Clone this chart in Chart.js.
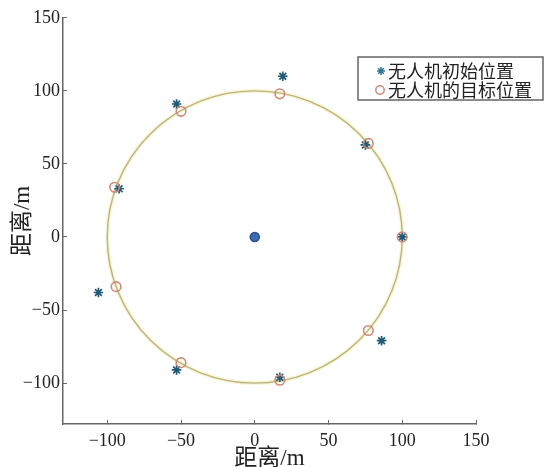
<!DOCTYPE html>
<html>
<head>
<meta charset="utf-8">
<script src="https://cdn.jsdelivr.net/npm/chart.js@4/dist/chart.umd.min.js"></script>
<style>
    html, body { margin: 0; padding: 0; background: #fff; }
    #wrap { width: 546px; height: 467px; }
</style>
</head>
<body>
<div id="wrap"><canvas id="chart"></canvas></div>
<script>
// Initial positions (stars)
const startX = [19, -53, -92, -106, -53, 17, 86, 75, 100, 0];
const startY = [110, 91, 33, -38, -91, -96, -71, 63, 0, 0];
// Target positions (hollow circles)
const targetX = [17, -50, 77, -95, 100, -94, 77, -50, 17];
const targetY = [98, 86, 64, 34, 0, -34, -64, -86, -98];
// Centre drone
const centerX = [0];
const centerY = [0];
// Formation ring
const ringCenter = [0, 0];
const ringRadius = 100;
// Axes
const xTicks = [-100, -50, 0, 50, 100, 150];
const yTicks = [-100, -50, 0, 50, 100, 150];
const legendLabels = ['无人机初始位置', '无人机的目标位置'];

const SERIF = "'Liberation Serif', 'Times New Roman', 'Noto Sans CJK SC', serif";
const STAR_COLOR = '#1f5a76';
const TARGET_COLOR = '#cf8878';

function toPoints(xs, ys) {
    return xs.map((x, i) => ({x: x, y: ys[i]}));
}

function fmt(v) {
    return String(v).replace('-', '\u2212');
}

// draws the r=100 ring through the chart scales
const ringPlugin = {
    id: 'ring',
    beforeDatasetsDraw(chart) {
        const {ctx} = chart;
        const xs = chart.scales.x, ys = chart.scales.y;
        const cx = xs.getPixelForValue(ringCenter[0]);
        const cy = ys.getPixelForValue(ringCenter[1]);
        const rx = xs.getPixelForValue(ringCenter[0] + ringRadius) - cx;
        const ry = cy - ys.getPixelForValue(ringCenter[1] + ringRadius);
        ctx.save();
        ctx.beginPath();
        ctx.ellipse(cx, cy, rx, ry, 0, 0, Math.PI * 2);
        ctx.strokeStyle = 'rgba(246, 242, 190, 0.7)';
        ctx.lineWidth = 4;
        ctx.stroke();
        ctx.strokeStyle = '#b8b487';
        ctx.lineWidth = 1.4;
        ctx.stroke();
        ctx.restore();
    }
};

// boxed legend overlapping the top right of the plot
const legendPlugin = {
    id: 'boxLegend',
    afterDraw(chart) {
        const {ctx} = chart;
        ctx.save();
        ctx.fillStyle = '#fff';
        ctx.fillRect(358, 57, 185, 43);
        ctx.strokeStyle = '#666';
        ctx.lineWidth = 1.5;
        ctx.strokeRect(358, 57, 185, 43);

        // star marker
        const sx = 381, sy = 71, r = 4;
        ctx.strokeStyle = '#2f7596';
        ctx.lineWidth = 1.5;
        ctx.beginPath();
        ctx.moveTo(sx - r, sy); ctx.lineTo(sx + r, sy);
        ctx.moveTo(sx, sy - r); ctx.lineTo(sx, sy + r);
        const d = r * 0.7;
        ctx.moveTo(sx - d, sy - d); ctx.lineTo(sx + d, sy + d);
        ctx.moveTo(sx - d, sy + d); ctx.lineTo(sx + d, sy - d);
        ctx.stroke();

        // circle marker
        ctx.strokeStyle = TARGET_COLOR;
        ctx.beginPath();
        ctx.arc(380, 90, 4.2, 0, Math.PI * 2);
        ctx.stroke();

        ctx.fillStyle = '#222';
        ctx.font = "18px 'Noto Sans CJK SC'";
        ctx.textBaseline = 'middle';
        ctx.textAlign = 'left';
        ctx.fillText(legendLabels[0], 388, 71);
        ctx.fillText(legendLabels[1], 388, 90);
        ctx.restore();
    }
};

const axisBorder = {display: true, color: '#666', width: 1.5};
const tickFont = {family: SERIF, size: 18};
const titleFont = {family: SERIF, size: 23, lineHeight: 1};

new Chart(document.getElementById('chart'), {
    type: 'scatter',
    data: {
        datasets: [
            {
                label: 'center',
                data: toPoints(centerX, centerY),
                pointStyle: 'circle',
                pointRadius: 4.5,
                backgroundColor: '#3e6db6',
                borderColor: '#2b4f8e',
                borderWidth: 1.5,
                order: 0
            },
            {
                label: legendLabels[1],
                data: toPoints(targetX, targetY),
                pointStyle: 'circle',
                pointRadius: 4.8,
                backgroundColor: 'rgba(255,255,255,0)',
                borderColor: TARGET_COLOR,
                borderWidth: 1.6,
                order: 1
            },
            {
                label: legendLabels[0],
                data: toPoints(startX, startY),
                pointStyle: 'star',
                pointRadius: 4.8,
                borderColor: STAR_COLOR,
                backgroundColor: STAR_COLOR,
                borderWidth: 1.7,
                order: 2
            }
        ]
    },
    options: {
        responsive: true,
        maintainAspectRatio: false,
        animation: false,
        layout: {padding: {top: 12, right: 70, left: 0, bottom: 0}},
        plugins: {
            legend: {display: false},
            tooltip: {enabled: false}
        },
        scales: {
            x: {
                type: 'linear',
                min: -130,
                max: 150,
                afterBuildTicks: s => { s.ticks = xTicks.map(v => ({value: v})); },
                afterFit: s => { s.height = 43; },
                border: axisBorder,
                grid: {drawOnChartArea: false, drawTicks: true, tickLength: -4, color: '#666'},
                ticks: {font: tickFont, color: '#222', padding: 10, maxRotation: 0, callback: v => fmt(v)},
                title: {display: true, text: '距离/m', font: titleFont, color: '#222', padding: {top: 0, bottom: -3}}
            },
            y: {
                type: 'linear',
                min: -128,
                max: 150,
                afterBuildTicks: s => { s.ticks = yTicks.map(v => ({value: v})); },
                afterFit: s => { s.width = 63; },
                border: axisBorder,
                grid: {drawOnChartArea: false, drawTicks: true, tickLength: -4, color: '#666'},
                ticks: {font: tickFont, color: '#222', padding: 7, callback: v => fmt(v)},
                title: {display: true, text: '距离/m', font: titleFont, color: '#222', padding: {top: 11, bottom: 0}}
            }
        }
    },
    plugins: [ringPlugin, legendPlugin]
});
</script>
</body>
</html>
